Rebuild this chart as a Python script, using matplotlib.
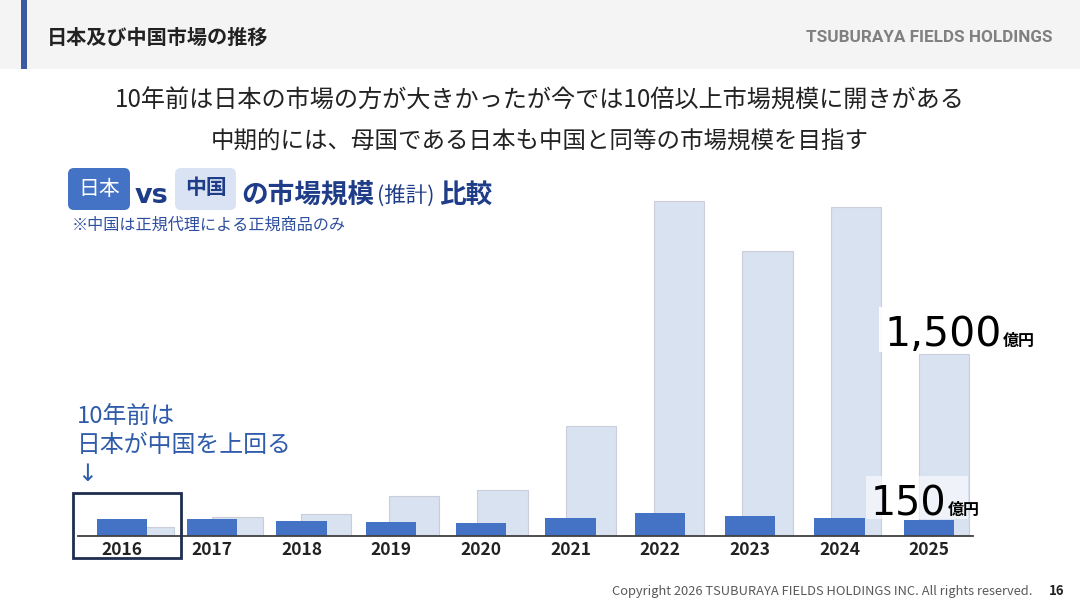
import numpy as np
import matplotlib.pyplot as plt
from matplotlib.patches import Rectangle, FancyBboxPatch

plt.rcParams['font.family'] = ['Noto Sans CJK JP', 'DejaVu Sans']

# -----------------------------
# Data (億円, estimated from the slide)
# -----------------------------
years = ["2016", "2017", "2018", "2019", "2020", "2021", "2022", "2023", "2024", "2025"]
japan = [134, 134, 124, 112, 102, 149, 185, 165, 146, 130]
china = [74, 157, 179, 331, 377, 905, 2765, 2353, 2716, 1500]

label_japan = "150"
label_china = "1,500"
unit = "億円"

BLUE = "#4472C4"
LIGHT = "#D9E2F1"
NAVY = "#1F3C88"
NUM_FONT = ["DejaVu Sans"]

# -----------------------------
# Figure + background canvas in pixel coords
# -----------------------------
W, H = 1080, 607
fig = plt.figure(figsize=(W / 100, H / 100), dpi=100)
bg = fig.add_axes([0, 0, 1, 1])
bg.set_xlim(0, W)
bg.set_ylim(H, 0)
bg.axis("off")

# header band
bg.add_patch(Rectangle((0, 0), W, 69, facecolor="#F4F4F4", edgecolor="none"))
bg.add_patch(Rectangle((21, 0), 6, 69, facecolor="#3A5BA0", edgecolor="none"))
bg.text(47, 37, "日本及び中国市場の推移", fontsize=14.5, fontweight="bold",
        color="#222222", va="center", ha="left")
bg.text(1053, 37, "TSUBURAYA FIELDS HOLDINGS", fontsize=12.3, fontweight="bold",
        color="#808080", va="center", ha="right", family=["Roboto", "DejaVu Sans"])

# headline
bg.text(540, 101, "10年前は日本の市場の方が大きかったが今では10倍以上市場規模に開きがある",
        fontsize=17.4, color="#222222", ha="center", va="center")
bg.text(540, 142, "中期的には、母国である日本も中国と同等の市場規模を目指す",
        fontsize=16.9, color="#222222", ha="center", va="center")

# chart title row
bg.add_patch(FancyBboxPatch((68, 168), 62, 42, boxstyle="round,pad=0,rounding_size=6",
                            facecolor=BLUE, edgecolor="none"))
bg.text(99, 189, "日本", fontsize=15, color="white", ha="center", va="center")
bg.text(151, 196, "vs", fontsize=19.5, fontweight="bold", color=NAVY, ha="center",
        va="center", family=NUM_FONT)
bg.add_patch(FancyBboxPatch((175, 168), 61, 42, boxstyle="round,pad=0,rounding_size=6",
                            facecolor="#DAE3F3", edgecolor="none"))
bg.text(206, 188, "中国", fontsize=15, fontweight="bold", color=NAVY, ha="center", va="center")
bg.text(241, 195, "の市場規模", fontsize=19.2, fontweight="bold", color=NAVY, ha="left", va="center")
bg.text(377, 197, "(推計)", fontsize=15.5, color=NAVY, ha="left", va="center")
bg.text(439, 195, "比較", fontsize=19.2, fontweight="bold", color=NAVY, ha="left", va="center")
bg.text(72, 225, "※中国は正規代理による正規商品のみ", fontsize=11.6, color="#2F4F9F",
        ha="left", va="center")

# annotation for 2016
bg.text(77, 417, "10年前は", fontsize=17.2, color="#2F5BAA", ha="left", va="center")
bg.text(77, 446, "日本が中国を上回る", fontsize=17.2, color="#2F5BAA", ha="left", va="center")
bg.text(87, 474, "↓", fontsize=17, color="#2F5BAA", ha="center", va="center",
        family=["DejaVu Sans"])

# footer
bg.text(1033, 592, "Copyright 2026 TSUBURAYA FIELDS HOLDINGS INC. All rights reserved.",
        fontsize=9.3, color="#595959", ha="right", va="center")
bg.text(1057, 591, "16", fontsize=9.5, fontweight="bold", color="#222222",
        ha="center", va="center")

# -----------------------------
# Bar chart
# -----------------------------
ax_left, ax_right = 78, 973
ax_bottom, ax_top = 535.7, 195
ax = fig.add_axes([ax_left / W, (H - ax_bottom) / H,
                   (ax_right - ax_left) / W, (ax_bottom - ax_top) / H])
ax.patch.set_alpha(0)

x = np.arange(len(years))
# the China bars drift slightly left relative to the Japan bars across the row
x_china = x + 0.30 - 0.0145 * x

ax.bar(x_china, china, width=0.56, color=LIGHT, edgecolor="#C9CED8", linewidth=0.8, zorder=1)
ax.bar(x, japan, width=0.56, color=BLUE, edgecolor="none", zorder=2)

ax.set_xlim(-0.493, 9.49)
ax.set_ylim(0, 340.7 * 1500 / 181.7)
ax.set_xticks(x)
ax.set_xticklabels(years, fontsize=12.5, color="#222222", fontweight="bold")
ax.tick_params(axis="x", length=0, pad=3.5)
ax.set_yticks([])
for s in ["top", "right", "left"]:
    ax.spines[s].set_visible(False)
ax.spines["bottom"].set_color("#404040")
ax.spines["bottom"].set_linewidth(1.3)

# value labels (overlay canvas on top of chart)
top = fig.add_axes([0, 0, 1, 1])
top.set_xlim(0, W)
top.set_ylim(H, 0)
top.axis("off")
top.patch.set_alpha(0)

top.add_patch(Rectangle((879, 307), 162, 45, facecolor="white", edgecolor="none", alpha=0.9))
top.text(884, 346, label_china, fontsize=29.5, color="black", ha="left", va="baseline",
         family=NUM_FONT)
top.text(1003, 346, unit, fontsize=11.5, fontweight="bold", color="black", ha="left",
         va="baseline")

top.add_patch(Rectangle((866, 476), 102, 43, facecolor="white", edgecolor="none", alpha=0.6))
top.text(871, 515, label_japan, fontsize=28.5, color="black", ha="left", va="baseline",
         family=NUM_FONT)
top.text(948, 515, unit, fontsize=11.5, fontweight="bold", color="black", ha="left",
         va="baseline")

# highlight box around 2016
top.add_patch(Rectangle((73, 493), 108, 65, facecolor="none", edgecolor="#1F2D50", linewidth=2))

plt.savefig("out.png", dpi=100)
